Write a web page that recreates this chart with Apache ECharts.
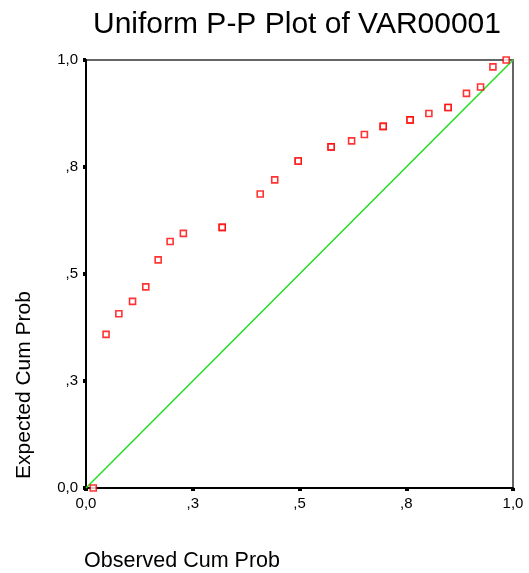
<!DOCTYPE html>
<html><head><meta charset="utf-8">
<script src="https://cdn.jsdelivr.net/npm/echarts@6/dist/echarts.min.js"></script>
<style>html,body{margin:0;padding:0;background:#fff}#c{width:529px;height:573px}</style>
</head><body><div id="c"></div>
<script>
const titleText = "Uniform P-P Plot of VAR00001";
const xTitle = "Observed Cum Prob";
const yTitle = "Expected Cum Prob";
const tickValues = [0, 0.25, 0.5, 0.75, 1];
const tickLabels = ["0,0", ",3", ",5", ",8", "1,0"];
const observed = [0.017, 0.047, 0.077, 0.109, 0.140, 0.169, 0.197, 0.228, 0.319, 0.319, 0.408, 0.442, 0.497, 0.497, 0.574, 0.574, 0.622, 0.652, 0.696, 0.696, 0.759, 0.759, 0.803, 0.848, 0.848, 0.891, 0.924, 0.953, 0.984];
const expected = [0.0, 0.359, 0.407, 0.436, 0.470, 0.533, 0.576, 0.595, 0.609, 0.609, 0.687, 0.720, 0.764, 0.764, 0.797, 0.797, 0.811, 0.826, 0.845, 0.845, 0.860, 0.860, 0.875, 0.889, 0.889, 0.922, 0.937, 0.984, 1.0];
const refLine = [[0, 0], [1, 1]];

const pts = observed.map((x, i) => [x, expected[i]]);
const lbl = v => { const i = tickValues.findIndex(t => Math.abs(t - v) < 1e-6); return i >= 0 ? tickLabels[i] : ''; };
const font = 'Liberation Sans, Arial, sans-serif';
const chart = echarts.init(document.getElementById('c'));
chart.setOption({
  animation: false,
  graphic: [
    { type: 'text', x: 297, y: 25, style: { text: titleText, font: '30px ' + font, fill: '#000', align: 'center', verticalAlign: 'middle' } },
    { type: 'text', x: 84, y: 561, style: { text: xTitle, font: '21.5px ' + font, fill: '#000', align: 'left', verticalAlign: 'middle' } },
    { type: 'text', x: 24, y: 385, rotation: Math.PI / 2, style: { text: yTitle, font: '21px ' + font, fill: '#000', align: 'center', verticalAlign: 'middle' } }
  ],
  grid: { left: 86, right: 16, top: 60, bottom: 85, show: true, borderColor: '#333', borderWidth: 1.5 },
  xAxis: { type: 'value', min: 0, max: 1, interval: 0.25,
    axisLine: { show: true, onZero: false, lineStyle: { color: '#000', width: 2 } },
    axisTick: { show: true, length: 3, lineStyle: { color: '#000', width: 4 } },
    axisLabel: { formatter: lbl, margin: 8, fontFamily: font, fontSize: 15, color: '#000', showMaxLabel: true, showMinLabel: true },
    splitLine: { show: false } },
  yAxis: { type: 'value', min: 0, max: 1, interval: 0.25,
    axisLine: { show: true, onZero: false, lineStyle: { color: '#000', width: 2 } },
    axisTick: { show: true, length: 3, lineStyle: { color: '#000', width: 4 } },
    axisLabel: { formatter: lbl, margin: 8, fontFamily: font, fontSize: 15, color: '#000' },
    splitLine: { show: false } },
  series: [
    { type: 'line', data: refLine, symbol: 'none', lineStyle: { color: '#22dd22', width: 1.5 }, z: 2 },
    { type: 'scatter', data: pts, symbol: 'rect', symbolSize: 6, clip: false,
      itemStyle: { color: '#fff', borderColor: '#ff0000', borderWidth: 1.6 }, z: 3 }
  ]
});
</script></body></html>
